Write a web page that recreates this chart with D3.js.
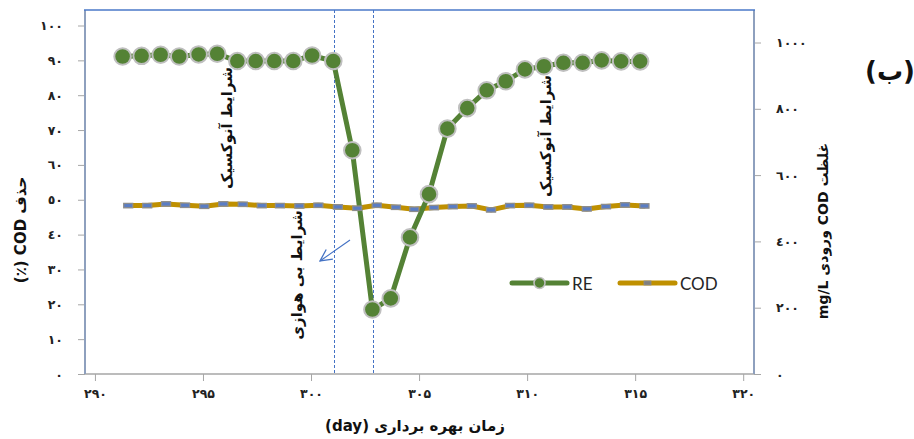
<!DOCTYPE html>
<html>
<head>
<meta charset="utf-8">
<script src="https://cdn.jsdelivr.net/npm/d3@7"></script>
<style>
  html, body { margin: 0; padding: 0; background: #fff; }
  svg { display: block; }
  .rtl { direction: rtl; unicode-bidi: embed; }
</style>
</head>
<body>
<svg id="chart" width="914" height="439"></svg>
<script>
// ---- data ----
const reDays = [291.28, 292.16, 293.04, 293.90, 294.80, 295.66, 296.59, 297.44, 298.30, 299.18, 300.05, 301.03, 301.91, 302.84, 303.69, 304.58, 305.46, 306.31, 307.23, 308.13, 309.01, 309.90, 310.78, 311.68, 312.57, 313.45, 314.35, 315.23];
const reValues = [91.1, 91.3, 91.6, 91.1, 91.7, 91.9, 89.8, 89.8, 89.8, 89.8, 91.4, 89.8, 64.2, 18.5, 21.7, 39.2, 51.6, 70.4, 76.3, 81.4, 84.0, 87.4, 88.3, 89.3, 89.3, 90.0, 89.7, 89.7];
const codDays = [291.54, 292.42, 293.29, 294.17, 295.06, 295.94, 296.84, 297.72, 298.56, 299.46, 300.34, 301.24, 302.14, 303.04, 303.93, 304.78, 305.69, 306.56, 307.44, 308.33, 309.21, 310.10, 310.98, 311.86, 312.76, 313.65, 314.53, 315.43];
const codValues = [508, 508, 513, 509, 506, 513, 512, 508, 508, 507, 509, 504, 500, 509, 503, 497, 502, 505, 507, 495, 508, 509, 504, 504, 498, 505, 510, 507];
const phaseDays = [301.07, 302.89];
const xTicks = [290, 295, 300, 305, 310, 315, 320];
const xTickLabels = ['۲۹۰', '۲۹۵', '۳۰۰', '۳۰۵', '۳۱۰', '۳۱۵', '۳۲۰'];
const leftTicks = [0, 10, 20, 30, 40, 50, 60, 70, 80, 90, 100];
const leftTickLabels = ['٠', '١٠', '٢٠', '٣٠', '٤٠', '٥٠', '٦٠', '٧٠', '٨٠', '٩٠', '١٠٠'];
const rightTicks = [0, 200, 400, 600, 800, 1000];
const rightTickLabels = ['٠', '٢٠٠', '٤٠٠', '٦٠٠', '٨٠٠', '١٠٠٠'];
const seriesNames = ['RE', 'COD'];
const xTitle = 'زمان بهره برداری (day)';
const leftTitle = 'حذف COD (٪)';
const rightTitle = 'غلظت COD ورودی mg/L';
const panelLabel = '(ب)';
const annotations = ['شرایط آنوکسیک', 'شرایط آنوکسیک', 'شرایط بی هوازی'];

// ---- layout ----
const L = 85, R = 754, T = 10, B = 374;
const svg = d3.select('#chart');
const x = d3.scaleLinear().domain([289.54, 320.5]).range([L, R]);
const yL = d3.scaleLinear().domain([0, 100]).range([B, 25.5]);
const yR = d3.scaleLinear().domain([0, 1000]).range([B, 42.5]);

const arFont = "'DejaVu Sans', sans-serif";
const green = '#548235', gold = '#BF9000', blue = '#4472C4';

// axes
const xAxis = svg.append('g').attr('transform', `translate(0,${B})`)
  .call(d3.axisBottom(x).tickValues(xTicks).tickSize(7).tickPadding(8)
    .tickFormat((d, i) => xTickLabels[i]));
const lAxis = svg.append('g').attr('transform', `translate(${L},0)`)
  .call(d3.axisLeft(yL).tickValues(leftTicks).tickSize(7).tickPadding(15)
    .tickFormat((d, i) => leftTickLabels[i]));
const rAxis = svg.append('g').attr('transform', `translate(${R},0)`)
  .call(d3.axisRight(yR).tickValues(rightTicks).tickSize(7).tickPadding(15)
    .tickFormat((d, i) => rightTickLabels[i]));
[xAxis, lAxis, rAxis].forEach(g => {
  g.select('.domain').remove();
  g.selectAll('.tick line').attr('stroke', '#A6A6A6').attr('stroke-width', 1);
  g.selectAll('.tick text').attr('font-family', arFont).attr('font-size', 12.5)
    .attr('font-weight', 'bold').attr('fill', '#222');
});

// frame
svg.append('line').attr('x1', L).attr('x2', R).attr('y1', B).attr('y2', B)
  .attr('stroke', '#A6A6A6').attr('stroke-width', 1.5);
svg.append('line').attr('x1', L).attr('x2', L).attr('y1', T).attr('y2', B)
  .attr('stroke', '#8EA0BE').attr('stroke-width', 2);
svg.append('line').attr('x1', R).attr('x2', R).attr('y1', T).attr('y2', B)
  .attr('stroke', '#8EA0BE').attr('stroke-width', 2);
svg.append('line').attr('x1', L - 1).attr('x2', R + 1).attr('y1', T).attr('y2', T)
  .attr('stroke', '#4A78C8').attr('stroke-width', 1.5);

// phase lines
svg.selectAll('.phase').data(phaseDays).enter().append('line')
  .attr('class', 'phase')
  .attr('x1', d => Math.round(x(d)) + 0.5).attr('x2', d => Math.round(x(d)) + 0.5)
  .attr('y1', T).attr('y2', B)
  .attr('stroke', blue).attr('stroke-width', 1.2).attr('stroke-dasharray', '3,2')
  .attr('shape-rendering', 'crispEdges');

// COD series
const codData = codDays.map((d, i) => ({ d, v: codValues[i] }));
svg.append('path').datum(codData)
  .attr('d', d3.line().x(p => x(p.d)).y(p => yR(p.v)))
  .attr('fill', 'none').attr('stroke', gold).attr('stroke-width', 5)
  .attr('stroke-linecap', 'round').attr('stroke-linejoin', 'round');

// RE series
const reData = reDays.map((d, i) => ({ d, v: reValues[i] }));
svg.append('path').datum(reData)
  .attr('d', d3.line().x(p => x(p.d)).y(p => yL(p.v)))
  .attr('fill', 'none').attr('stroke', green).attr('stroke-width', 5)
  .attr('stroke-linejoin', 'round');

svg.selectAll('.codm').data(codData).enter().append('rect')
  .attr('class', 'codm')
  .attr('x', p => x(p.d) - 4.5).attr('y', p => yR(p.v) - 2.2)
  .attr('width', 9).attr('height', 4.4)
  .attr('fill', '#5A7DC4').attr('stroke', '#8C8C8C').attr('stroke-width', 1.3);

svg.selectAll('.rem').data(reData).enter().append('circle')
  .attr('class', 'rem')
  .attr('cx', p => x(p.d)).attr('cy', p => yL(p.v)).attr('r', 8.3)
  .attr('fill', green).attr('stroke', '#BFBFBF').attr('stroke-width', 2);

// arrow
svg.append('defs').append('marker').attr('id', 'ah')
  .attr('viewBox', '0 0 12 12').attr('refX', 11).attr('refY', 6)
  .attr('markerWidth', 14).attr('markerHeight', 14).attr('markerUnits', 'userSpaceOnUse')
  .attr('orient', 'auto')
  .append('path').attr('d', 'M1,1 L11,6 L1,11').attr('fill', 'none')
  .attr('stroke', blue).attr('stroke-width', 1.1);
svg.append('line').attr('x1', 350).attr('y1', 240).attr('x2', 320).attr('y2', 261)
  .attr('stroke', blue).attr('stroke-width', 1.1).attr('marker-end', 'url(#ah)');

// annotations (rotated vertical text)
const annPos = [[227, 128], [546, 136], [297, 275]];
annotations.forEach((t, i) => {
  svg.append('text').attr('class', 'rtl')
    .attr('transform', `translate(${annPos[i][0]},${annPos[i][1]}) rotate(-90)`)
    .attr('text-anchor', 'middle').attr('dominant-baseline', 'central')
    .attr('font-family', arFont).attr('font-weight', 'bold').attr('font-size', 15)
    .attr('fill', '#111').text(t);
});

// axis titles
svg.append('text').attr('class', 'rtl').attr('x', 415).attr('y', 431).attr('text-anchor', 'middle')
  .attr('font-family', arFont).attr('font-weight', 'bold').attr('font-size', 15)
  .attr('fill', '#111').text(xTitle);
svg.append('text').attr('class', 'rtl').attr('transform', 'translate(21,230) rotate(-90)')
  .attr('text-anchor', 'middle').attr('dominant-baseline', 'central')
  .attr('font-family', arFont).attr('font-weight', 'bold').attr('font-size', 15)
  .attr('fill', '#111').text(leftTitle);
svg.append('text').attr('class', 'rtl').attr('transform', 'translate(823,231) rotate(-90)')
  .attr('text-anchor', 'middle').attr('dominant-baseline', 'central')
  .attr('font-family', arFont).attr('font-weight', 'bold').attr('font-size', 14)
  .attr('fill', '#111').text(rightTitle);
svg.append('text').attr('class', 'rtl').attr('x', 890).attr('y', 80).attr('text-anchor', 'middle')
  .attr('font-family', arFont).attr('font-weight', 'bold').attr('font-size', 26)
  .attr('fill', '#111').text(panelLabel);

// legend
const leg = [
  { x0: 512, color: green },
  { x0: 620, color: gold }
];
const ly = 283;
seriesNames.forEach((n, i) => {
  const g = svg.append('g');
  g.append('line').attr('x1', leg[i].x0).attr('x2', leg[i].x0 + 55)
    .attr('y1', ly).attr('y2', ly).attr('stroke', leg[i].color)
    .attr('stroke-width', 5).attr('stroke-linecap', 'round');
  if (i === 0) {
    g.append('circle').attr('cx', leg[i].x0 + 27.5).attr('cy', ly).attr('r', 5.5)
      .attr('fill', green).attr('stroke', '#BFBFBF').attr('stroke-width', 1.5);
  } else {
    g.append('rect').attr('x', leg[i].x0 + 27.5 - 3.5).attr('y', ly - 2).attr('width', 7).attr('height', 4)
      .attr('fill', '#7F7F7F').attr('stroke', '#8C8C8C').attr('stroke-width', 0.8);
  }
  g.append('text').attr('x', leg[i].x0 + 60).attr('y', ly).attr('dominant-baseline', 'central')
    .attr('font-family', "Lato, 'Open Sans', sans-serif").attr('font-size', 17)
    .attr('fill', '#262626').text(n);
});
</script>
</body>
</html>
